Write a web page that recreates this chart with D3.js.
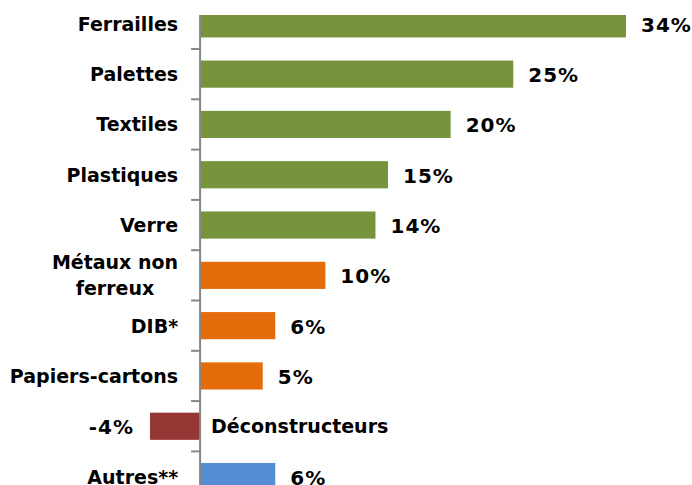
<!DOCTYPE html>
<html>
<head>
<meta charset="utf-8">
<script src="https://cdnjs.cloudflare.com/ajax/libs/d3/7.8.5/d3.min.js"></script>
<style>
  body { margin: 0; background: #fff; }
  svg text { font-family: "DejaVu Sans", Verdana, sans-serif; font-weight: bold; fill: #000; }
</style>
</head>
<body>
<svg id="chart" width="692" height="485"></svg>
<script>
// data
var categories = ["Ferrailles", "Palettes", "Textiles", "Plastiques", "Verre",
                  "Métaux non ferreux", "DIB*", "Papiers-cartons", "Déconstructeurs", "Autres**"];
var values = [34, 25, 20, 15, 14, 10, 6, 5, -4, 6];
var groups = ["g", "g", "g", "g", "g", "o", "o", "o", "r", "b"];
var labelLines = [["Ferrailles"], ["Palettes"], ["Textiles"], ["Plastiques"], ["Verre"],
                  ["Métaux non", "ferreux"], ["DIB*"], ["Papiers-cartons"], ["Déconstructeurs"], ["Autres**"]];

var colors = {g: "#77933C", o: "#E46C0A", r: "#953735", b: "#558ED5"};

var svg = d3.select("svg#chart");
var width = +svg.attr("width"),
    height = +svg.attr("height"),
    plotTop = 15,
    catSize = 19,
    valSize = 20;

var rows = categories.map(function(c, i) {
  return {cat: c, value: values[i], group: groups[i], lines: labelLines[i]};
});

// scales
var x = d3.scaleLinear().domain([-4, 34]).range([150, 626]);
var y = d3.scaleBand().domain(categories)
          .range([-1.3, 501.7])
          .paddingInner(0.46)
          .paddingOuter(0.23);
var x0 = x(0);
var step = y.step();

// clip (plot area starts at y=15)
svg.append("defs").append("clipPath")
   .attr("id", "plot")
   .append("rect")
   .attr("x", 0).attr("y", plotTop)
   .attr("width", width).attr("height", height - plotTop);

var plot = svg.append("g").attr("clip-path", "url(#plot)");

// bars
plot.selectAll("rect.bar")
    .data(rows)
    .enter().append("rect")
    .attr("class", "bar")
    .attr("x", function(d) { return x(Math.min(0, d.value)); })
    .attr("y", function(d) { return y(d.cat); })
    .attr("width", function(d) { return Math.abs(x(d.value) - x0); })
    .attr("height", y.bandwidth())
    .attr("fill", function(d) { return colors[d.group]; });

// axis line + ticks at band boundaries
var boundaries = categories.slice(1).map(function(c) { return y(c) - step * y.paddingInner() / 2; });

svg.append("line")
   .attr("x1", x0).attr("x2", x0)
   .attr("y1", plotTop).attr("y2", height)
   .attr("stroke", "#868686")
   .attr("stroke-width", 2);

svg.selectAll("line.tick")
   .data(boundaries)
   .enter().append("line")
   .attr("class", "tick")
   .attr("x1", x0 - 9).attr("x2", x0)
   .attr("y1", function(d) { return d; })
   .attr("y2", function(d) { return d; })
   .attr("stroke", "#868686")
   .attr("stroke-width", 2);

// category labels
var catLabels = svg.selectAll("text.cat")
   .data(rows)
   .enter().append("text")
   .attr("class", "cat")
   .style("font-size", catSize + "px")
   .attr("text-anchor", function(d) { return d.value < 0 ? "start" : "middle"; });

catLabels.each(function(d) {
  var t = d3.select(this);
  var cy = y(d.cat) + y.bandwidth() / 2;
  var n = d.lines.length;
  d.lines.forEach(function(line, k) {
    t.append("tspan")
     .attr("dy", k === 0 ? ((-(n - 1) * 26 / 2) + "px") : "26px")
     .text(line);
  });
  t.attr("y", cy).attr("dominant-baseline", "central");
  t.selectAll("tspan").attr("dominant-baseline", "central");
  if (d.value < 0) {
    t.attr("x", x0 + 11);
    t.selectAll("tspan").attr("x", x0 + 11);
  } else {
    var w = 0;
    t.selectAll("tspan").each(function() { w = Math.max(w, this.getComputedTextLength()); });
    var cx = x0 - 22 - w / 2;
    t.attr("x", cx);
    t.selectAll("tspan").attr("x", cx);
  }
});

// value labels
svg.selectAll("text.val")
   .data(rows)
   .enter().append("text")
   .attr("class", "val")
   .style("font-size", valSize + "px")
   .style("letter-spacing", "1px")
   .attr("dominant-baseline", "central")
   .attr("text-anchor", function(d) { return d.value < 0 ? "end" : "start"; })
   .attr("x", function(d) { return d.value < 0 ? x(d.value) - 16 : x(d.value) + 15; })
   .attr("y", function(d) { return y(d.cat) + y.bandwidth() / 2 + 1; })
   .text(function(d) { return d.value + "%"; });
</script>
</body>
</html>
